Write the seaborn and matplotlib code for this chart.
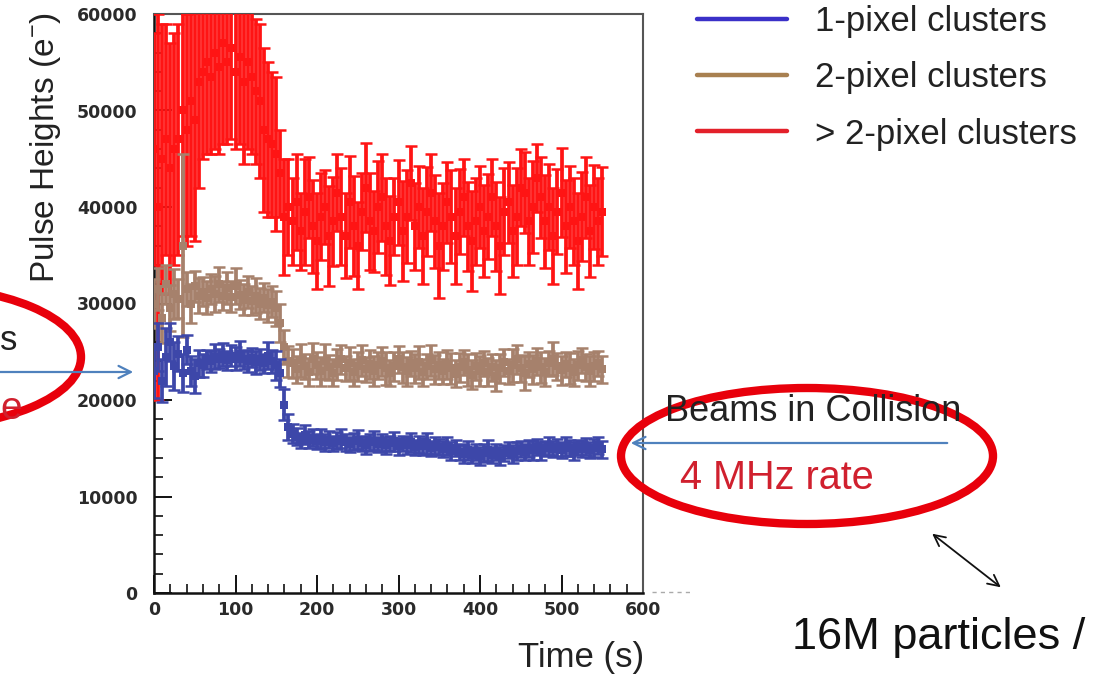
import numpy as np
import pandas as pd
import matplotlib
matplotlib.use("Agg")
import matplotlib.pyplot as plt
import seaborn as sns
from matplotlib.ticker import MultipleLocator
from matplotlib.patches import Ellipse, FancyArrowPatch
from matplotlib.lines import Line2D

# ---------------- data ----------------
time_s = [0, 5, 10, 15, 20, 25, 30, 35, 40, 45,
          50, 55, 60, 65, 70, 75, 80, 85, 90, 95,
          100, 105, 110, 115, 120, 125, 130, 135, 140, 145,
          150, 155, 160, 165, 170, 175, 180, 185, 190, 195,
          200, 205, 210, 215, 220, 225, 230, 235, 240, 245,
          250, 255, 260, 265, 270, 275, 280, 285, 290, 295,
          300, 305, 310, 315, 320, 325, 330, 335, 340, 345,
          350, 355, 360, 365, 370, 375, 380, 385, 390, 395,
          400, 405, 410, 415, 420, 425, 430, 435, 440, 445,
          450, 455, 460, 465, 470, 475, 480, 485, 490, 495,
          500, 505, 510, 515, 520, 525, 530, 535, 540, 545,
          550]

one_px = [23000, 25500, 22000, 24500, 26000, 23500, 24800, 22800, 25200, 23000,
          22500, 23800, 23600, 24200, 24000, 24500, 24300, 24700, 24100, 24600,
          24300, 24800, 24200, 24000, 24400, 23900, 24200, 23800, 24600, 24000,
          23600, 22800, 19500, 17200,
          16500, 16200, 15800, 16400, 15900, 16100, 15700, 16000, 15600, 15900,
          15500, 15800, 16000, 15600, 15400, 15700, 15900, 15500, 15300, 15600,
          15800, 15400, 15600, 15300, 15500, 15700, 15200, 15500, 15300, 15600,
          15100, 15400, 15200, 15500, 15000, 15300, 15100, 14900, 15200, 14700,
          15000, 14600, 14400, 14800, 14300, 14600, 14200, 14500, 14800, 14300,
          14600, 14200, 14500, 14800, 14400, 14700, 14900, 14600, 15000, 14800,
          15100, 14700, 15000, 15200, 14900, 15100, 14800, 15200, 15000, 14700,
          15100, 14900, 15200, 14800, 15000, 15300, 14900]
one_px_err = [2800, 2500, 2200, 3000, 2000, 2500, 1800, 2000, 1500, 1600,
              1800, 1400, 1200, 1000, 1100, 1300, 1000, 1200, 1000, 1100,
              1200, 1300, 1000, 1100, 1000, 1200, 1100, 1000, 1400, 1200,
              1500, 1500, 1600, 1300,
              1000, 900, 800, 1000, 850, 900, 800, 950, 850, 900,
              800, 900, 1000, 850, 800, 900, 950, 800, 850, 900,
              1000, 800, 900, 850, 800, 950, 900, 800, 850, 1000,
              800, 900, 850, 1100, 800, 900, 850, 800, 950, 900,
              850, 800, 900, 1000, 850, 800, 900, 950, 1100, 850,
              800, 900, 850, 800, 950, 900, 850, 800, 900, 1000,
              850, 900, 800, 950, 850, 900, 800, 1000, 850, 900,
              800, 850, 900, 800, 950, 850, 900]

two_px = [30000, 31500, 28500, 32000, 29500, 31000, 30500, 36000, 31500, 30000,
          31800, 30800, 31200, 30600, 31500, 31000, 32000, 30800, 31600, 30700,
          31800, 30900, 30400, 31200, 30300, 30800, 30000, 30600, 29800, 30200,
          29500, 28000, 25500, 24000,
          23800, 23200, 24100, 23500, 22900, 24300, 23600, 23000, 24000, 23400,
          22800, 23700, 24200, 23300, 23800, 22900, 23500, 24100, 23200, 23700,
          23000, 23600, 24000, 23300, 22800, 23500, 24200, 23400, 23000, 23800,
          23300, 23900, 22900, 23500, 24100, 23200, 23600, 23000, 23700, 23300,
          22700, 23400, 23900, 23100, 22600, 23500, 23000, 23800, 22900, 23400,
          22500, 23300, 23900, 23000, 23600, 24200, 23300, 22800, 23700, 23200,
          24000, 23400, 22900, 23800, 24300, 23500, 23100, 23700, 23300, 22900,
          23600, 24100, 23400, 23000, 23500, 23800, 23200]
two_px_err = [2500, 2200, 2600, 2000, 2400, 2600, 2000, 9500, 1800, 2000,
              1600, 1800, 1500, 1700, 1600, 1900, 1800, 1500, 1700, 1600,
              1900, 1500, 1600, 1700, 1500, 1800, 1600, 1500, 1700, 1600,
              1800, 2000, 1800, 1600,
              1500, 1400, 1700, 1300, 1500, 1600, 1400, 1500, 1800, 1300,
              1400, 1600, 1500, 1300, 1700, 1400, 1500, 1600, 1300, 1500,
              1600, 1400, 1500, 1700, 1300, 1500, 1400, 1600, 1500, 1300,
              1500, 1700, 1400, 1300, 1600, 1500, 1400, 1300, 1500, 1600,
              1400, 1500, 1300, 1700, 1500, 1400, 1600, 1300, 1500, 1400,
              1600, 1500, 1400, 1300, 1700, 1500, 1400, 1800, 1300, 1500,
              1400, 1600, 1500, 1300, 1700, 1400, 1500, 1300, 1600, 1400,
              1500, 1300, 1400, 1600, 1500, 1300, 1400]

multi_px = [46000, 40000, 45000, 47000, 44000, 46000, 47000, 50000, 48000, 51000,
            49000, 53000, 54000, 55000, 53500, 56000, 54500, 57000, 55000, 56500,
            54000, 55500, 53000, 55000, 53500, 52000, 51000, 48000, 47000, 46500,
            45500, 43500, 39000, 40000,
            38500, 40500, 37500, 39500, 41000, 38000, 36500, 39000, 40000, 37000,
            38500, 41500, 39000, 37000, 40500, 38000, 36000, 39500, 42000, 38500,
            37500, 40000, 41000, 38000, 36500, 39000, 40500, 37500, 39000, 42500,
            38000, 40000, 37000, 39500, 41500, 38500, 36000, 38000, 40500, 39000,
            37000, 39500, 41000, 38000, 36500, 38500, 40000, 37500, 39000, 41000,
            38000, 36000, 39500, 40500, 37500, 39000, 42000, 41500, 38500, 40000,
            43000, 41000, 38500, 40000, 37000, 39500, 41500, 38000, 40000, 38500,
            36500, 39000, 41000, 37500, 40000, 38500, 39500]
multi_px_err = [12000, 20000, 14000, 12000, 13000, 12000, 12000, 13000, 12000, 14000,
                12500, 11000, 9000, 9500, 8000, 10000, 9000, 10500, 8500, 9500,
                8000, 9000, 8500, 9000, 8000, 7500, 8000, 8500, 8000, 7500,
                8000, 4500, 6000, 5000,
                4500, 5000, 4000, 5500, 4200, 4800, 5000, 4500, 3800, 5200,
                4600, 4000, 5000, 4400, 4800, 5200, 4500, 4000, 4600, 5000,
                4200, 4800, 4500, 5000, 4600, 4000, 4400, 5200, 4800, 3800,
                4500, 4200, 5000, 4600, 4000, 4800, 5400, 4500, 4200, 4800,
                5000, 4400, 4000, 4600, 5200, 4500, 4200, 4800, 4400, 4000,
                4600, 5000, 4500, 4200, 4800, 5000, 4000, 4200, 4500, 4800,
                3500, 4200, 4800, 4500, 5000, 4400, 4600, 4800, 4200, 4500,
                5000, 4600, 4200, 4800, 4400, 4500, 4600]

series_names = ["1-pixel clusters", "2-pixel clusters", "> 2-pixel clusters"]
x_ticks = [0, 100, 200, 300, 400, 500, 600]
y_ticks = [0, 10000, 20000, 30000, 40000, 50000, 60000]

# ---------------- styling ----------------
sns.set_style("white")
plt.rcParams["font.family"] = ["Liberation Sans", "DejaVu Sans"]
plt.rcParams["mathtext.default"] = "regular"

W, H = 1097, 679
fig = plt.figure(figsize=(W / 100, H / 100), dpi=100)
fig.patch.set_facecolor("white")


def fx(px):
    return px / W


def fy(py):
    return 1 - py / H


ax = fig.add_axes([fx(154), fy(593), (643 - 154) / W, (593 - 14) / H])
ax.set_facecolor("white")

frames = []
for name, v, e in zip(series_names, [one_px, two_px, multi_px],
                      [one_px_err, two_px_err, multi_px_err]):
    frames.append(pd.DataFrame({"time": time_s, "value": v, "err": e, "series": name}))
df = pd.concat(frames, ignore_index=True)

data_colors = {"1-pixel clusters": "#3d47a9",
               "2-pixel clusters": "#a6816c",
               "> 2-pixel clusters": "#ff1414"}
legend_colors = ["#3a30c8", "#a88050", "#e3202a"]
draw_order = ["> 2-pixel clusters", "2-pixel clusters", "1-pixel clusters"]

for k, name in enumerate(draw_order):
    sub = df[df["series"] == name]
    z = 3 + k
    ax.errorbar(sub["time"], sub["value"], yerr=sub["err"], fmt="none",
                ecolor=data_colors[name], elinewidth=2.7, capsize=4.2,
                capthick=1.8, zorder=z)
    sns.scatterplot(data=sub, x="time", y="value", color=data_colors[name],
                    marker="s", s=38, linewidth=0, ax=ax, zorder=z + 0.5,
                    legend=False)

ax.set_xlim(0, 600)
ax.set_ylim(0, 60000)
ax.set_xticks(x_ticks)
ax.set_yticks(y_ticks)
ax.set_xticklabels([str(t) for t in x_ticks])
ax.set_yticklabels([str(t) for t in y_ticks])
ax.xaxis.set_minor_locator(MultipleLocator(20))
ax.yaxis.set_minor_locator(MultipleLocator(2000))
ax.tick_params(axis="both", which="major", direction="in", length=13, width=1.4,
               color="#111111", labelsize=12.5, labelcolor="#2a2a2a")
ax.tick_params(axis="both", which="minor", direction="in", length=6.5, width=1.2,
               color="#111111")
ax.tick_params(axis="x", which="both", bottom=True, top=False, pad=6)
ax.tick_params(axis="y", which="both", left=True, right=False, pad=12)
for lab in ax.get_xticklabels() + ax.get_yticklabels():
    lab.set_fontweight("bold")
    lab.set_fontfamily("DejaVu Sans")
ax.set_xlabel("")
ax.set_ylabel("")

for s in ["left", "bottom"]:
    ax.spines[s].set_color("#111111")
    ax.spines[s].set_linewidth(1.8)
for s in ["top", "right"]:
    ax.spines[s].set_color("#555555")
    ax.spines[s].set_linewidth(1.5)

# axis titles
fig.text(fx(46), fy(148), "Pulse Heights (e$^{-}$)", rotation=90, ha="center",
         va="center", fontsize=24, color="#222222")
fig.text(fx(581), fy(657), "Time (s)", ha="center", va="center", fontsize=25,
         color="#222222")

# legend
handles = [Line2D([], [], color=c, lw=3.2) for c in legend_colors]
fig.legend(handles, series_names, loc="upper left",
           bbox_to_anchor=(fx(697), fy(5)), frameon=False, fontsize=25,
           handlelength=2.6, handletextpad=0.8, labelspacing=0.67,
           borderpad=0, borderaxespad=0, labelcolor="#222222")

# right annotation
fig.add_artist(Ellipse((fx(807), fy(456)), 372 / W, 136 / H, transform=fig.transFigure,
                       fill=False, edgecolor="#e8000b", linewidth=6))
fig.text(fx(665), fy(412), "Beams in Collision", ha="left", va="center",
         fontsize=26, color="#222222")
fig.text(fx(680), fy(478), "4 MHz rate", ha="left", va="center",
         fontsize=28.5, color="#d0202e")
fig.add_artist(FancyArrowPatch((fx(950), fy(443)), (fx(628), fy(443)),
                               transform=fig.transFigure, arrowstyle="->",
                               mutation_scale=22, color="#4f81bd", lw=1.6))
fig.add_artist(FancyArrowPatch((fx(930), fy(532)), (fx(1003), fy(589)),
                               transform=fig.transFigure, arrowstyle="<->",
                               mutation_scale=20, color="#111111", lw=1.3))
fig.text(fx(792), fy(638), "16M particles /", ha="left", va="center",
         fontsize=32.5, color="#111111")

# left annotation (cut off by the slide edge)
fig.add_artist(Ellipse((fx(-88), fy(357)), 338 / W, 142 / H, transform=fig.transFigure,
                       fill=False, edgecolor="#e8000b", linewidth=6))
fig.text(fx(0), fy(341), "s", ha="left", va="center", fontsize=25, color="#222222")
fig.text(fx(0), fy(409), "e", ha="left", va="center", fontsize=28, color="#d0202e")
fig.add_artist(FancyArrowPatch((fx(-5), fy(372)), (fx(136), fy(372)),
                               transform=fig.transFigure, arrowstyle="->",
                               mutation_scale=22, color="#4f81bd", lw=1.6))

# faint dashed continuation of the time axis
fig.add_artist(Line2D([fx(652), fx(690)], [fy(592), fy(592)], transform=fig.transFigure,
                      color="#aaaaaa", lw=1, linestyle=(0, (3, 3))))

fig.savefig("out.png", dpi=100, facecolor="white")
